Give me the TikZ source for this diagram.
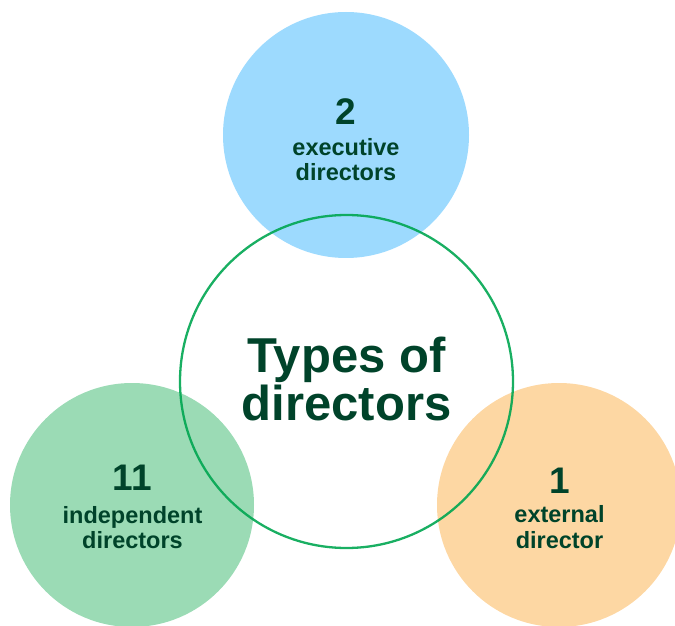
\documentclass[tikz,border=0pt]{standalone}
\usepackage{fontspec}
\setmainfont{Liberation Sans}
\definecolor{txtgreen}{HTML}{00432A}
\definecolor{ringgreen}{HTML}{00A651}
\definecolor{execblue}{HTML}{9DDAFE}
\definecolor{indepgreen}{HTML}{9BDBB5}
\definecolor{extorange}{HTML}{FDD7A3}
\begin{document}
\begin{tikzpicture}[x=1pt,y=1pt,
    blob/.style={circle, inner sep=0pt, minimum size=244pt},
    num/.style={anchor=base, inner sep=0pt, text=txtgreen, font=\bfseries\fontsize{37}{37}\selectfont},
    lbl/.style={align=center, inner sep=0pt, text=txtgreen, font=\bfseries\fontsize{23.5}{25.5}\selectfont}]
\useasboundingbox (0,0) rectangle (675,625);

\node (exec) at (346,490) [blob, fill=execblue, minimum size=246pt] {};
\node (indep) at (132,120) [blob, fill=indepgreen] {};
\node (ext) at (559,120) [blob, fill=extorange] {};

\node (ring) at (346.5,243.5) [circle, inner sep=0pt, minimum size=333pt, draw=ringgreen, line width=2.3pt, draw opacity=0.9] {};

\node (title) at (346.5,246.5) [align=center, inner sep=0pt, text=txtgreen, font=\bfseries\fontsize{49}{48}\selectfont] {Types of\\directors};

\node (execnum) at (346,500) [num] {2};
\node (execlbl) at (346,465.5) [lbl] {executive\\directors};

\node (indepnum) at (132.5,135) [num] {11};
\node (indeplbl) at (132.5,97.5) [lbl] {independent\\directors};

\node (extnum) at (559.5,132) [num] {1};
\node (extlbl) at (559.5,98) [lbl] {external\\director};

\end{tikzpicture}
\end{document}
